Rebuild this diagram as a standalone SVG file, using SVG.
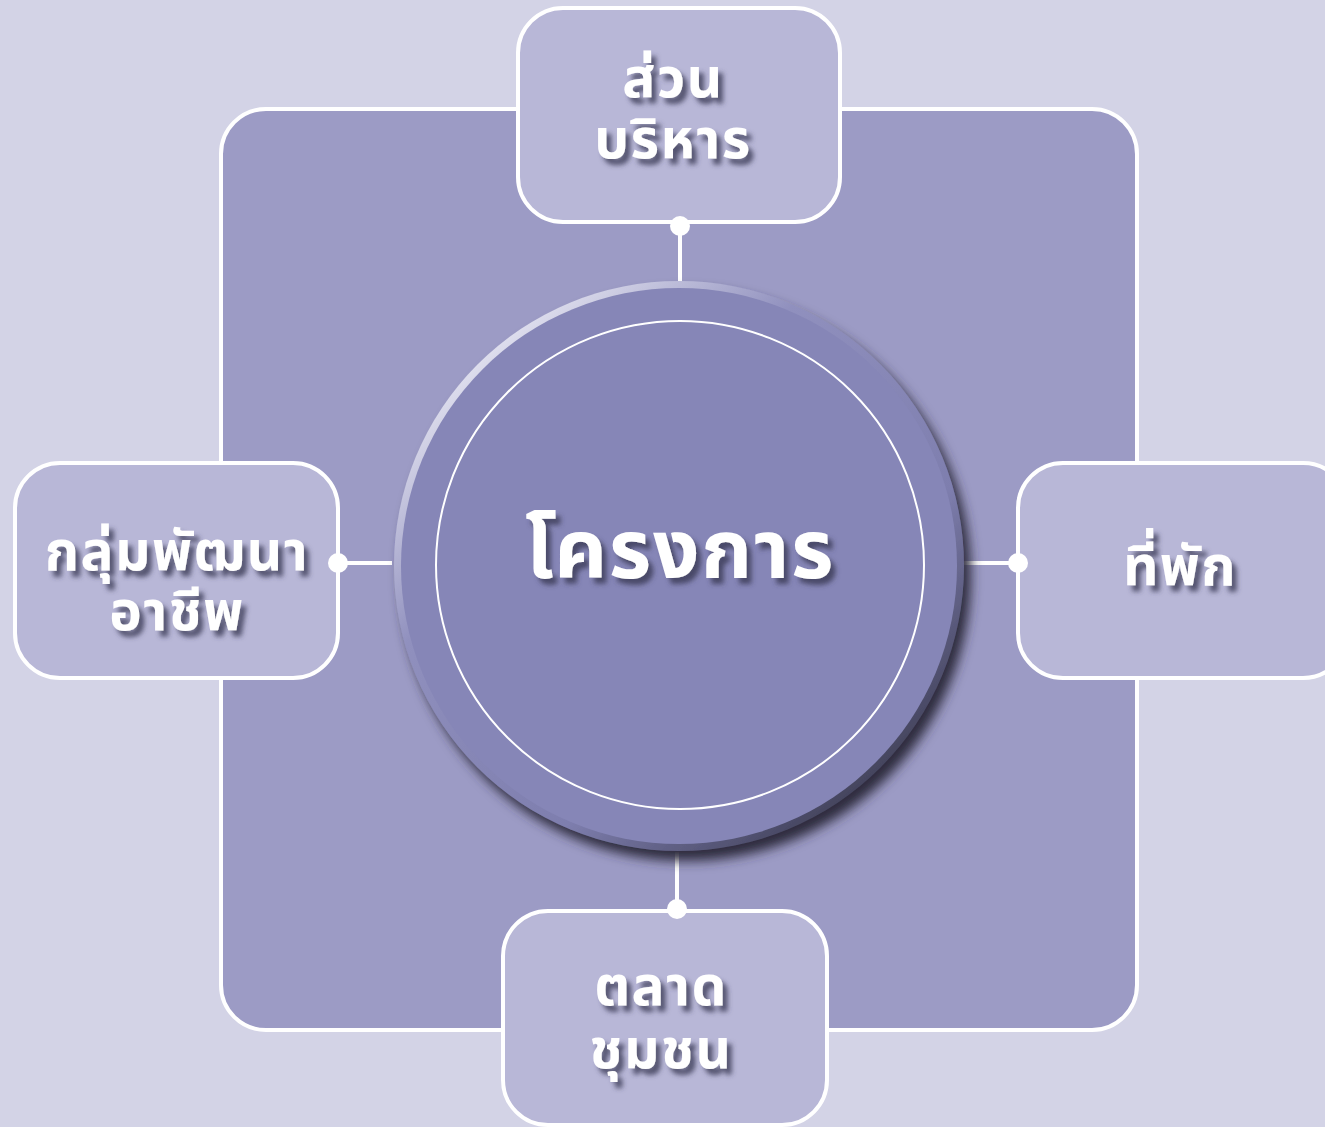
<svg xmlns="http://www.w3.org/2000/svg" width="1325" height="1127" viewBox="0 0 1325 1127">
<defs>
<style>
.box{fill:#b8b7d7;stroke:#fff;stroke-width:4}
.lbl{font-family:"Noto Sans Thai","Noto Sans","Open Sans","DejaVu Sans",sans-serif;font-weight:bold;fill:#fff;text-anchor:middle;filter:url(#ts);letter-spacing:1.5px}
.con{stroke:#fff;stroke-width:4;fill:none}
.dot{fill:#fff}
</style>
<filter id="ts" x="-20%" y="-20%" width="140%" height="160%">
<feGaussianBlur in="SourceAlpha" stdDeviation="2.5"/>
<feOffset dx="5" dy="6" result="b"/>
<feFlood flood-color="#3a3a55" flood-opacity="0.8"/>
<feComposite in2="b" operator="in"/>
<feMerge><feMergeNode/><feMergeNode in="SourceGraphic"/></feMerge>
</filter>
<filter id="cs" x="-20%" y="-20%" width="140%" height="140%">
<feGaussianBlur in="SourceAlpha" stdDeviation="6"/>
<feOffset dx="7" dy="10" result="b"/>
<feFlood flood-color="#2e2c3e" flood-opacity="1"/>
<feComposite in2="b" operator="in"/>
<feMerge><feMergeNode/><feMergeNode in="SourceGraphic"/></feMerge>
</filter>
<linearGradient id="rim" x1="0.15" y1="0.1" x2="0.85" y2="0.9">
<stop offset="0" stop-color="#e6e6f2"/>
<stop offset="0.3" stop-color="#9090be"/>
<stop offset="0.7" stop-color="#7e7eae"/>
<stop offset="1" stop-color="#3e3e55"/>
</linearGradient>
</defs>
<rect x="0" y="0" width="1325" height="1127" fill="#d3d3e6"/>
<rect x="221" y="109" width="916" height="921" rx="45" fill="#9c9bc5" stroke="#fff" stroke-width="4"/>
<g id="connectors">
<line class="con" x1="680" y1="226" x2="680" y2="284"/>
<line class="con" x1="338" y1="563" x2="392" y2="563"/>
<line class="con" x1="963" y1="563" x2="1018" y2="563"/>
<line class="con" x1="677" y1="852" x2="677" y2="909"/>
</g>
<g id="center">
<circle cx="679" cy="566" r="285" fill="url(#rim)" filter="url(#cs)"/>
<circle cx="679" cy="566" r="278" fill="#8686b7"/>
<circle cx="680" cy="565" r="244" fill="none" stroke="#fff" stroke-width="2"/>
<text class="lbl" x="680" y="578" font-size="82">โครงการ</text>
</g>
<g id="top">
<rect class="box" x="518" y="8" width="322" height="214" rx="45"/>
<text class="lbl" x="673" y="97" font-size="55">ส่วน</text>
<text class="lbl" x="673" y="158" font-size="55">บริหาร</text>
<circle class="dot" cx="680" cy="226" r="10"/>
</g>
<g id="left">
<rect class="box" x="15" y="463" width="323" height="215" rx="45"/>
<text class="lbl" x="177" y="570" font-size="55">กลุ่มพัฒนา</text>
<text class="lbl" x="177" y="630" font-size="55">อาชีพ</text>
<circle class="dot" cx="338" cy="563" r="10"/>
</g>
<g id="right">
<rect class="box" x="1018" y="463" width="330" height="215" rx="45"/>
<text class="lbl" x="1180" y="585" font-size="55">ที่พัก</text>
<circle class="dot" cx="1018" cy="563" r="10"/>
</g>
<g id="bottom">
<rect class="box" x="503" y="911" width="324" height="214" rx="45"/>
<text class="lbl" x="661" y="1005" font-size="55">ตลาด</text>
<text class="lbl" x="661" y="1068" font-size="55">ชุมชน</text>
<circle class="dot" cx="677" cy="909" r="10"/>
</g>
</svg>
